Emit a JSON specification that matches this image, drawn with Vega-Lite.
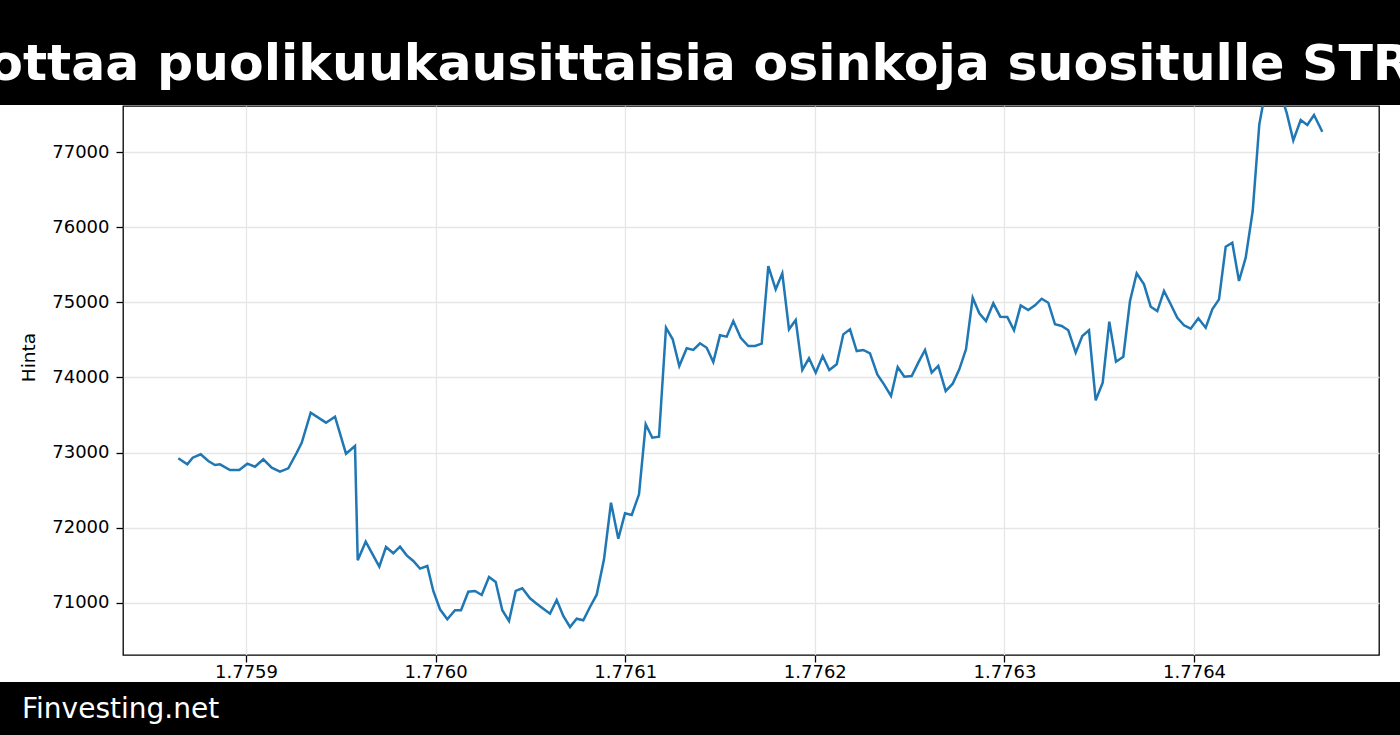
{
  "$schema": "https://vega.github.io/schema/vega-lite/v6.json",
  "padding": 0,
  "spacing": 0,
  "background": "white",
  "config": {"font": "DejaVu Sans"},
  "vconcat": [
    {
      "width": 1400,
      "height": 105,
      "view": {"fill": "#000000", "stroke": null},
      "data": {"values": [{"otsikko": "ottaa puolikuukausittaisia osinkoja suositulle STR"}]},
      "mark": {"type": "text", "color": "#ffffff", "font": "DejaVu Sans", "fontSize": 50.5, "fontWeight": "bold", "align": "center", "baseline": "alphabetic", "dy": 27.5, "clip": true},
      "encoding": {"text": {"field": "otsikko"}}
    },
    {
      "spacing": 0,
      "hconcat": [
        {
          "width": 19,
          "height": 549,
          "view": {"stroke": null, "fill": null},
          "data": {"values": []},
          "mark": {"type": "point", "opacity": 0},
          "encoding": {}
        },
        {
          "width": 1256,
          "height": 549,
          "view": {"stroke": "#000000", "strokeWidth": 1.3, "fill": "#ffffff"},
          "data": {"values": [
            {"aika": 1775864295, "hinta": 72925},
            {"aika": 1775869042, "hinta": 72845},
            {"aika": 1775871890, "hinta": 72933},
            {"aika": 1775876109, "hinta": 72978},
            {"aika": 1775880117, "hinta": 72889},
            {"aika": 1775883651, "hinta": 72836},
            {"aika": 1775886288, "hinta": 72845},
            {"aika": 1775891562, "hinta": 72769},
            {"aika": 1775896466, "hinta": 72769},
            {"aika": 1775900686, "hinta": 72853},
            {"aika": 1775904747, "hinta": 72813},
            {"aika": 1775909124, "hinta": 72912},
            {"aika": 1775913554, "hinta": 72800},
            {"aika": 1775917932, "hinta": 72747},
            {"aika": 1775922309, "hinta": 72792},
            {"aika": 1775926739, "hinta": 72999},
            {"aika": 1775929376, "hinta": 73132},
            {"aika": 1775934123, "hinta": 73532},
            {"aika": 1775942192, "hinta": 73399},
            {"aika": 1775946939, "hinta": 73479},
            {"aika": 1775952740, "hinta": 72986},
            {"aika": 1775957487, "hinta": 73089},
            {"aika": 1775958911, "hinta": 71568},
            {"aika": 1775963130, "hinta": 71816},
            {"aika": 1775970302, "hinta": 71483},
            {"aika": 1775973836, "hinta": 71745},
            {"aika": 1775977686, "hinta": 71661},
            {"aika": 1775981220, "hinta": 71749},
            {"aika": 1775984753, "hinta": 71634},
            {"aika": 1775988234, "hinta": 71559},
            {"aika": 1775991768, "hinta": 71457},
            {"aika": 1775995618, "hinta": 71492},
            {"aika": 1775998782, "hinta": 71160},
            {"aika": 1776002316, "hinta": 70916},
            {"aika": 1776006166, "hinta": 70783},
            {"aika": 1776010227, "hinta": 70903},
            {"aika": 1776013391, "hinta": 70903},
            {"aika": 1776017241, "hinta": 71150},
            {"aika": 1776020775, "hinta": 71160},
            {"aika": 1776024308, "hinta": 71106},
            {"aika": 1776028158, "hinta": 71346},
            {"aika": 1776031692, "hinta": 71279},
            {"aika": 1776035173, "hinta": 70903},
            {"aika": 1776038706, "hinta": 70761},
            {"aika": 1776042240, "hinta": 71160},
            {"aika": 1776045721, "hinta": 71196},
            {"aika": 1776049782, "hinta": 71062},
            {"aika": 1776053315, "hinta": 70991},
            {"aika": 1776056796, "hinta": 70924},
            {"aika": 1776060330, "hinta": 70858},
            {"aika": 1776063863, "hinta": 71040},
            {"aika": 1776067344, "hinta": 70827},
            {"aika": 1776070878, "hinta": 70681},
            {"aika": 1776074411, "hinta": 70791},
            {"aika": 1776077892, "hinta": 70770},
            {"aika": 1776081426, "hinta": 70947},
            {"aika": 1776084959, "hinta": 71110},
            {"aika": 1776088809, "hinta": 71581},
            {"aika": 1776092501, "hinta": 72334},
            {"aika": 1776096351, "hinta": 71855},
            {"aika": 1776099885, "hinta": 72193},
            {"aika": 1776103418, "hinta": 72171},
            {"aika": 1776107268, "hinta": 72446},
            {"aika": 1776110802, "hinta": 73377},
            {"aika": 1776114283, "hinta": 73199},
            {"aika": 1776117816, "hinta": 73212},
            {"aika": 1776121508, "hinta": 74662},
            {"aika": 1776125042, "hinta": 74508},
            {"aika": 1776128522, "hinta": 74153},
            {"aika": 1776132425, "hinta": 74388},
            {"aika": 1776135906, "hinta": 74366},
            {"aika": 1776139440, "hinta": 74455},
            {"aika": 1776142973, "hinta": 74396},
            {"aika": 1776146454, "hinta": 74206},
            {"aika": 1776149988, "hinta": 74561},
            {"aika": 1776153521, "hinta": 74543},
            {"aika": 1776157002, "hinta": 74751},
            {"aika": 1776160905, "hinta": 74529},
            {"aika": 1776164913, "hinta": 74419},
            {"aika": 1776168447, "hinta": 74419},
            {"aika": 1776171980, "hinta": 74450},
            {"aika": 1776175461, "hinta": 75483},
            {"aika": 1776179364, "hinta": 75173},
            {"aika": 1776182845, "hinta": 75386},
            {"aika": 1776186378, "hinta": 74641},
            {"aika": 1776189912, "hinta": 74765},
            {"aika": 1776193393, "hinta": 74100},
            {"aika": 1776196926, "hinta": 74255},
            {"aika": 1776200460, "hinta": 74064},
            {"aika": 1776204152, "hinta": 74286},
            {"aika": 1776207632, "hinta": 74100},
            {"aika": 1776211535, "hinta": 74175},
            {"aika": 1776215016, "hinta": 74574},
            {"aika": 1776218550, "hinta": 74641},
            {"aika": 1776222083, "hinta": 74352},
            {"aika": 1776225564, "hinta": 74366},
            {"aika": 1776229098, "hinta": 74322},
            {"aika": 1776232948, "hinta": 74042},
            {"aika": 1776236481, "hinta": 73909},
            {"aika": 1776240173, "hinta": 73754},
            {"aika": 1776243707, "hinta": 74139},
            {"aika": 1776247187, "hinta": 74010},
            {"aika": 1776251090, "hinta": 74020},
            {"aika": 1776254571, "hinta": 74197},
            {"aika": 1776258105, "hinta": 74366},
            {"aika": 1776261638, "hinta": 74064},
            {"aika": 1776265119, "hinta": 74153},
            {"aika": 1776269022, "hinta": 73820},
            {"aika": 1776272714, "hinta": 73917},
            {"aika": 1776276194, "hinta": 74109},
            {"aika": 1776279728, "hinta": 74375},
            {"aika": 1776283261, "hinta": 75061},
            {"aika": 1776286742, "hinta": 74854},
            {"aika": 1776290276, "hinta": 74751},
            {"aika": 1776294126, "hinta": 74987},
            {"aika": 1776297818, "hinta": 74809},
            {"aika": 1776301510, "hinta": 74805},
            {"aika": 1776305043, "hinta": 74628},
            {"aika": 1776308577, "hinta": 74960},
            {"aika": 1776312585, "hinta": 74898},
            {"aika": 1776316119, "hinta": 74960},
            {"aika": 1776319652, "hinta": 75048},
            {"aika": 1776323133, "hinta": 74995},
            {"aika": 1776326667, "hinta": 74708},
            {"aika": 1776330200, "hinta": 74685},
            {"aika": 1776333681, "hinta": 74628},
            {"aika": 1776337584, "hinta": 74330},
            {"aika": 1776341065, "hinta": 74552},
            {"aika": 1776344598, "hinta": 74628},
            {"aika": 1776348132, "hinta": 73697},
            {"aika": 1776351824, "hinta": 73931},
            {"aika": 1776355304, "hinta": 74742},
            {"aika": 1776358838, "hinta": 74210},
            {"aika": 1776362688, "hinta": 74277},
            {"aika": 1776366222, "hinta": 75018},
            {"aika": 1776369755, "hinta": 75386},
            {"aika": 1776373605, "hinta": 75240},
            {"aika": 1776377139, "hinta": 74942},
            {"aika": 1776380620, "hinta": 74884},
            {"aika": 1776384153, "hinta": 75151},
            {"aika": 1776387687, "hinta": 74974},
            {"aika": 1776391168, "hinta": 74795},
            {"aika": 1776394701, "hinta": 74694},
            {"aika": 1776398235, "hinta": 74649},
            {"aika": 1776402243, "hinta": 74787},
            {"aika": 1776406146, "hinta": 74662},
            {"aika": 1776409627, "hinta": 74907},
            {"aika": 1776413160, "hinta": 75040},
            {"aika": 1776416694, "hinta": 75740},
            {"aika": 1776420175, "hinta": 75793},
            {"aika": 1776423708, "hinta": 75284},
            {"aika": 1776427242, "hinta": 75594},
            {"aika": 1776430934, "hinta": 76215},
            {"aika": 1776434414, "hinta": 77368},
            {"aika": 1776437948, "hinta": 77850},
            {"aika": 1776441640, "hinta": 78140},
            {"aika": 1776445332, "hinta": 77800},
            {"aika": 1776448865, "hinta": 77520},
            {"aika": 1776452346, "hinta": 77155},
            {"aika": 1776456249, "hinta": 77425},
            {"aika": 1776459730, "hinta": 77359},
            {"aika": 1776463263, "hinta": 77492},
            {"aika": 1776467641, "hinta": 77270}
          ]},
          "mark": {"type": "line", "color": "#1f77b4", "strokeWidth": 2.5, "clip": true},
          "encoding": {
            "x": {
              "field": "aika",
              "type": "quantitative",
              "scale": {"domain": [1775835130, 1776497544], "nice": false, "zero": false},
              "axis": {
                "title": null,
                "values": [1775900000, 1776000000, 1776100000, 1776200000, 1776300000, 1776400000],
                "labelExpr": "format(datum.value / 1e9, '.4f')",
                "grid": true,
                "gridColor": "#e6e6e6",
                "gridWidth": 1.3,
                "domain": false,
                "tickSize": 7,
                "tickWidth": 1.3,
                "tickColor": "#000000",
                "labelFont": "DejaVu Sans",
                "labelFontSize": 18,
                "labelColor": "#000000",
                "labelPadding": 1,
                "labelFlush": false,
                "labelOverlap": false
              }
            },
            "y": {
              "field": "hinta",
              "type": "quantitative",
              "scale": {"domain": [70308, 77612], "nice": false, "zero": false},
              "axis": {
                "title": "Hinta",
                "titleFont": "DejaVu Sans",
                "titleFontSize": 18.5,
                "titleFontWeight": "normal",
                "titleColor": "#000000",
                "titlePadding": 13,
                "titleY": 251,
                "values": [71000, 72000, 73000, 74000, 75000, 76000, 77000],
                "format": "d",
                "grid": true,
                "gridColor": "#e6e6e6",
                "gridWidth": 1.3,
                "domain": false,
                "tickSize": 7,
                "tickWidth": 1.3,
                "tickColor": "#000000",
                "labelFont": "DejaVu Sans",
                "labelFontSize": 18,
                "labelColor": "#000000",
                "labelPadding": 7,
                "labelOverlap": false
              }
            }
          }
        }
      ]
    },
    {
      "width": 1400,
      "height": 53,
      "view": {"fill": "#000000", "stroke": null},
      "data": {"values": [{"lahde": "Finvesting.net"}]},
      "mark": {"type": "text", "color": "#ffffff", "font": "DejaVu Sans", "fontSize": 28, "align": "left", "baseline": "alphabetic", "dx": -678, "dy": 9, "clip": true},
      "encoding": {"text": {"field": "lahde"}}
    }
  ]
}
